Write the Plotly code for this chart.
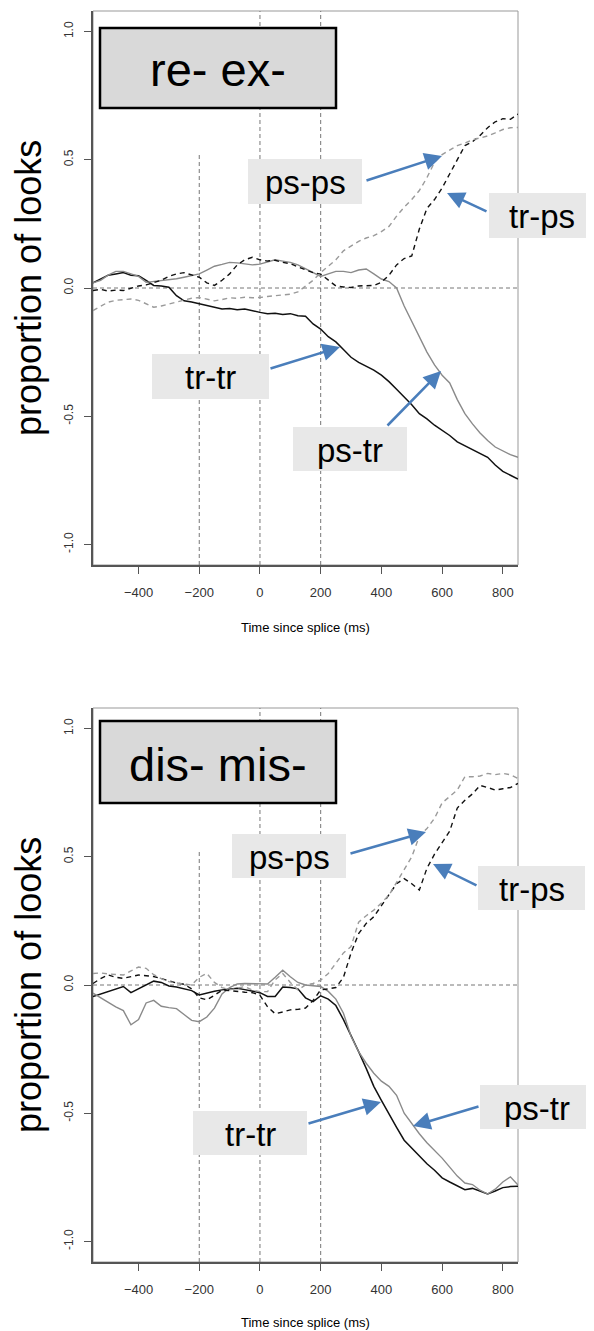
import plotly.graph_objects as go

# ---------------- data ----------------
time_ms = list(range(-550, 851, 25))

top_tr_tr = [0.02, 0.035, 0.05, 0.055, 0.06, 0.05, 0.048, 0.03, 0.01, 0.008, 0.003, -0.03, -0.05, -0.055,
             -0.062, -0.07, -0.075, -0.082, -0.08, -0.085, -0.082, -0.09, -0.095, -0.1, -0.098, -0.103, -0.1,
             -0.108, -0.11, -0.14, -0.16, -0.19, -0.21, -0.24, -0.27, -0.29, -0.305, -0.32, -0.34, -0.365,
             -0.395, -0.425, -0.455, -0.49, -0.51, -0.535, -0.555, -0.575, -0.6, -0.615, -0.63, -0.645, -0.66,
             -0.69, -0.715, -0.73, -0.745]
top_ps_tr = [0.02, 0.03, 0.05, 0.065, 0.065, 0.055, 0.045, 0.022, 0.025, 0.028, 0.033, 0.036, 0.042, 0.048,
             0.055, 0.07, 0.085, 0.092, 0.1, 0.098, 0.093, 0.09, 0.093, 0.1, 0.11, 0.105, 0.1, 0.09, 0.075,
             0.06, 0.045, 0.055, 0.065, 0.065, 0.06, 0.07, 0.074, 0.055, 0.035, 0.025, 0.0, -0.07, -0.13,
             -0.19, -0.25, -0.3, -0.34, -0.37, -0.435, -0.49, -0.53, -0.565, -0.595, -0.62, -0.635, -0.65, -0.66]
top_tr_ps = [-0.01, -0.005, -0.012, -0.008, -0.01, 0.0, 0.008, 0.012, 0.02, 0.03, 0.045, 0.055, 0.06, 0.05,
             0.042, 0.02, 0.01, 0.03, 0.055, 0.09, 0.11, 0.12, 0.11, 0.105, 0.108, 0.1, 0.095, 0.082, 0.07,
             0.06, 0.054, 0.03, 0.008, 0.004, 0.002, 0.008, 0.008, 0.01, 0.022, 0.05, 0.09, 0.115, 0.125,
             0.23, 0.31, 0.345, 0.39, 0.445, 0.505, 0.555, 0.57, 0.595, 0.625, 0.648, 0.66, 0.658, 0.678]
top_ps_ps = [-0.088, -0.07, -0.055, -0.048, -0.045, -0.043, -0.048, -0.06, -0.075, -0.07, -0.062, -0.055,
             -0.045, -0.04, -0.037, -0.045, -0.05, -0.045, -0.038, -0.04, -0.036, -0.038, -0.037, -0.033,
             -0.03, -0.028, -0.024, -0.015, 0.009, 0.03, 0.06, 0.085, 0.11, 0.145, 0.165, 0.182, 0.195, 0.204,
             0.22, 0.24, 0.28, 0.315, 0.345, 0.38, 0.43, 0.49, 0.52, 0.537, 0.555, 0.565, 0.578, 0.585, 0.593,
             0.605, 0.618, 0.625, 0.626]

bot_tr_tr = [-0.045, -0.035, -0.025, -0.015, -0.006, -0.03, -0.015, -0.003, 0.015, 0.01, -0.004, -0.008,
             -0.015, -0.022, -0.039, -0.03, -0.024, -0.019, -0.016, -0.013, -0.018, -0.024, -0.03, -0.045,
             -0.045, -0.008, -0.01, -0.015, -0.05, -0.065, -0.042, -0.055, -0.08, -0.135, -0.195, -0.26,
             -0.325, -0.395, -0.45, -0.505, -0.555, -0.605, -0.635, -0.665, -0.697, -0.722, -0.752, -0.768,
             -0.782, -0.798, -0.793, -0.805, -0.815, -0.803, -0.79, -0.786, -0.785]
bot_ps_tr = [-0.032, -0.05, -0.068, -0.085, -0.1, -0.155, -0.135, -0.07, -0.06, -0.083, -0.088, -0.092,
             -0.115, -0.138, -0.143, -0.125, -0.09, -0.035, -0.01, 0.004, 0.006, 0.005, 0.006, 0.004, 0.03,
             0.058, 0.032, 0.01, 0.0, -0.004, -0.006, -0.025, -0.055, -0.11, -0.2, -0.26, -0.305, -0.344,
             -0.375, -0.395, -0.43, -0.5, -0.54, -0.58, -0.615, -0.645, -0.675, -0.71, -0.745, -0.772, -0.778,
             -0.8, -0.815, -0.796, -0.768, -0.748, -0.78]
bot_tr_ps = [0.006, 0.025, 0.039, 0.03, 0.026, 0.032, 0.039, 0.036, 0.033, 0.025, 0.015, 0.008, 0.003,
             -0.015, -0.05, -0.058, -0.04, -0.02, -0.022, -0.026, -0.028, -0.03, -0.04, -0.085, -0.112, -0.105,
             -0.097, -0.095, -0.09, -0.06, -0.019, -0.015, -0.01, 0.03, 0.125, 0.2, 0.24, 0.266, 0.31, 0.35,
             0.395, 0.415, 0.395, 0.37, 0.455, 0.51, 0.555, 0.6, 0.69, 0.72, 0.745, 0.778, 0.77, 0.76, 0.765,
             0.77, 0.786]
bot_ps_ps = [0.045, 0.047, 0.043, 0.04, 0.039, 0.055, 0.07, 0.065, 0.04, 0.025, 0.013, 0.008, 0.003, 0.0,
             0.03, 0.045, 0.01, -0.01, -0.019, -0.012, -0.006, -0.02, -0.026, -0.026, 0.02, 0.045, 0.01,
             -0.019, 0.0, 0.006, 0.019, 0.045, 0.085, 0.125, 0.15, 0.245, 0.27, 0.292, 0.32, 0.35, 0.4, 0.45,
             0.5, 0.58, 0.61, 0.65, 0.71, 0.735, 0.76, 0.812, 0.812, 0.815, 0.825, 0.82, 0.825, 0.82, 0.805]

panel_titles = ["re- ex-", "dis- mis-"]
series_names = ["tr-tr", "ps-tr", "tr-ps", "ps-ps"]
x_tick_vals = [-400, -200, 0, 200, 400, 600, 800]
y_tick_vals = [-1.0, -0.5, 0.0, 0.5, 1.0]
y_tick_text = ["-1.0", "-0.5", "0.0", "0.5", "1.0"]
ref_vlines = [-200, 0, 200]
x_title = "Time since splice (ms)"
y_title = "proportion of looks"

# ---------------- layout helpers ----------------
# The page body adds an 8px margin, so the figure is drawn 8px smaller and offset.
OFF = 8
W, H = 594 - OFF, 1331 - OFF
ML, MR, MT, MB = 93 - OFF, 76, 11 - OFF, 69
PW, PH = W - ML - MR, H - MT - MB
FONT = "Liberation Sans, Arial, sans-serif"


def px(xp):  # target screen pixel -> paper fraction
    return (xp - OFF - ML) / PW


def py(yp):
    return (H - MB - (yp - OFF)) / PH


styles = {
    "tr-tr": dict(color="#111111", width=1.5, dash="solid"),
    "ps-tr": dict(color="#8a8a8a", width=1.4, dash="solid"),
    "tr-ps": dict(color="#111111", width=1.4, dash="5px,4px"),
    "ps-ps": dict(color="#9a9a9a", width=1.4, dash="5px,4px"),
}

fig = go.Figure()
panels = [
    ("x", "y", [top_tr_tr, top_ps_tr, top_tr_ps, top_ps_ps]),
    ("x2", "y2", [bot_tr_tr, bot_ps_tr, bot_tr_ps, bot_ps_ps]),
]
for xa, ya, series in panels:
    for name, vals in zip(series_names, series):
        fig.add_trace(go.Scatter(x=time_ms, y=vals, mode="lines", name=name, xaxis=xa, yaxis=ya,
                                 line=styles[name], showlegend=False, hoverinfo="skip"))

top_dom = [py(565), 1.0]
bot_dom = [0.0, py(708)]

axis_common = dict(showgrid=False, zeroline=False, ticks="outside", ticklen=7, tickcolor="#555",
                   tickwidth=1, showline=True, linecolor="#555", linewidth=1.5,
                   tickfont=dict(family=FONT, size=13, color="#333"))
fig.update_layout(
    width=W, height=H, margin=dict(l=ML, r=MR, t=MT, b=MB, autoexpand=False),
    paper_bgcolor="white", plot_bgcolor="white",
    xaxis=dict(axis_common, range=[-550, 850], tickvals=x_tick_vals, anchor="y", domain=[0, 1],
               ticklabelstandoff=8),
    xaxis2=dict(axis_common, range=[-550, 850], tickvals=x_tick_vals, anchor="y2", domain=[0, 1],
                ticklabelstandoff=8),
    yaxis=dict(axis_common, range=[-1.08, 1.08], tickvals=y_tick_vals, ticktext=y_tick_text,
               anchor="x", domain=top_dom, tickangle=-90, ticklabelstandoff=6,
               tickfont=dict(family=FONT, size=12, color="#333")),
    yaxis2=dict(axis_common, range=[-1.08, 1.08], tickvals=y_tick_vals, ticktext=y_tick_text,
                anchor="x2", domain=bot_dom, tickangle=-90, ticklabelstandoff=6,
                tickfont=dict(family=FONT, size=12, color="#333")),
)

shapes = []
annotations = []
ref_line = dict(color="#777777", width=1, dash="4px,3px")
for xa, ya in [("x", "y"), ("x2", "y2")]:
    shapes.append(dict(type="rect", xref=f"{xa} domain", yref=f"{ya} domain", x0=0, x1=1, y0=0, y1=1,
                       line=dict(color="#999999", width=1), layer="below"))
    shapes.append(dict(type="line", xref=f"{xa} domain", yref=ya, x0=0, x1=1, y0=0, y1=0,
                       line=ref_line, layer="below"))
    for v in ref_vlines:
        y_top = 0.52 if v == ref_vlines[0] else 1.08
        shapes.append(dict(type="line", xref=xa, yref=ya, x0=v, x1=v, y0=-1.08, y1=y_top,
                           line=ref_line, layer="below"))

# title boxes (target pixel geometry)
title_boxes = [(100, 336, 28, 108), (100, 336, 721, 803)]
for (x0, x1, y0, y1), t in zip(title_boxes, panel_titles):
    shapes.append(dict(type="rect", xref="paper", yref="paper", x0=px(x0), x1=px(x1), y0=py(y1), y1=py(y0),
                       fillcolor="#d9d9d9", line=dict(color="black", width=2.5), layer="above"))
    annotations.append(dict(xref="paper", yref="paper", x=px((x0 + x1) / 2), y=py((y0 + y1) / 2 + 2),
                            text=t, showarrow=False, font=dict(family=FONT, size=47, color="black"),
                            xanchor="center", yanchor="middle"))

# label boxes and arrows: (label, box x0,x1,y0,y1, arrow head x,y, arrow tail x,y)
labels = [
    ("ps-ps", 248, 362, 159, 204, 442, 156, 365, 181),
    ("tr-ps", 489, 594, 193, 238, 447, 193, 488, 212),
    ("tr-tr", 152, 269, 354, 399, 340, 347, 269, 369),
    ("ps-tr", 293, 407, 427, 471, 441, 371, 386, 427),
    ("ps-ps", 232, 346, 834, 878, 426, 832, 349, 854),
    ("tr-ps", 478, 585, 866, 910, 433, 864, 478, 886),
    ("tr-tr", 193, 307, 1111, 1155, 381, 1102, 307, 1124),
    ("ps-tr", 480, 594, 1085, 1129, 413, 1126, 480, 1106),
]
for lab, x0, x1, y0, y1, hx, hy, tx, ty in labels:
    shapes.append(dict(type="rect", xref="paper", yref="paper", x0=px(x0), x1=px(x1), y0=py(y1), y1=py(y0),
                       fillcolor="#e8e8e8", line=dict(width=0), layer="above"))
    annotations.append(dict(xref="paper", yref="paper", x=px((x0 + x1) / 2), y=py((y0 + y1) / 2 + 1),
                            text=lab, showarrow=False, font=dict(family=FONT, size=33, color="black"),
                            xanchor="center", yanchor="middle"))
    annotations.append(dict(xref="paper", yref="paper", x=px(hx), y=py(hy), text="", showarrow=True,
                            axref="pixel", ayref="pixel", ax=tx - hx, ay=ty - hy,
                            arrowhead=2, arrowsize=1.4, arrowwidth=2.5, arrowcolor="#4a7ebb"))

# axis titles
for yc, xt_y in [(288, 627), (985, 1322)]:
    annotations.append(dict(xref="paper", yref="paper", x=px(28), y=py(yc), text=y_title, textangle=-90,
                            showarrow=False, font=dict(family=FONT, size=36, color="black"),
                            xanchor="center", yanchor="middle"))
    annotations.append(dict(xref="paper", yref="paper", x=px(305), y=py(xt_y), text=x_title,
                            showarrow=False, font=dict(family=FONT, size=13, color="black"),
                            xanchor="center", yanchor="middle"))

fig.update_layout(shapes=shapes, annotations=annotations)
fig.write_html("out.html")
